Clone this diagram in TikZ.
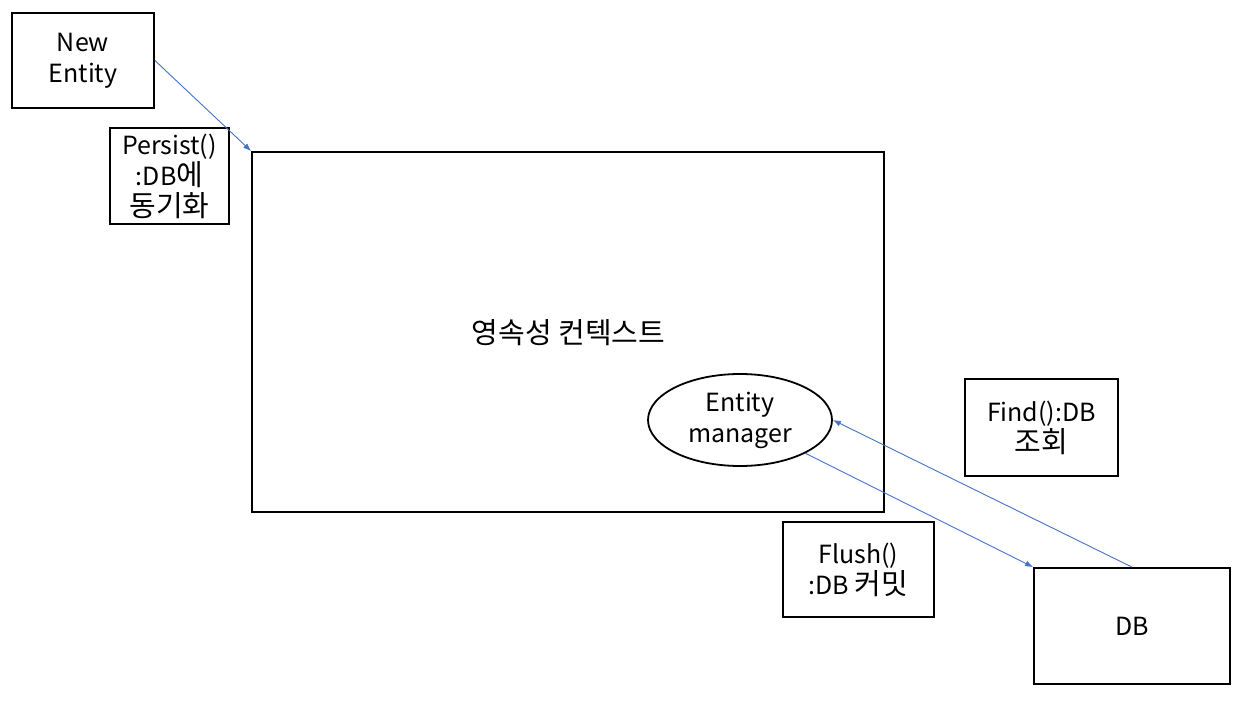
\documentclass[tikz,border=0pt]{standalone}
\usepackage{fontspec}
\setmainfont{Noto Sans CJK KR}
\usetikzlibrary{arrows.meta,shapes.geometric}
\definecolor{arrowblue}{HTML}{4472C4}
\newcommand\krtext[1]{{\fontsize{29}{31}\selectfont #1}}
\begin{document}
\begin{tikzpicture}[x=1pt,y=-1pt,
  box/.style={draw=black,line width=1.8pt,minimum width=#1,inner sep=0pt,align=center,font=\fontsize{25}{31}\selectfont},
  conn/.style={draw=arrowblue,line width=0.9pt,-{Latex[length=8pt,width=6pt]}}]
\path[use as bounding box] (0,0) rectangle (1240,706);
\node[box=142pt,minimum height=95pt] (new) at (83,60.5) {New\\Entity};
\node[box=119pt,minimum height=96pt] (persist) at (169.5,176) {Persist()\\:DB\krtext{에}\\\krtext{동기화}};
\node[box=632pt,minimum height=360pt] (pc) at (568,332) {};
\node[font=\fontsize{29}{31}\selectfont] (pctext) at (568.5,333) {영속성 컨텍스트};
\node[ellipse,draw=black,line width=1.8pt,minimum width=184pt,minimum height=92pt,inner sep=0pt,align=center,font=\fontsize{25}{31}\selectfont] (em) at (740,420) {Entity\\manager};
\node[box=153pt,minimum height=97pt] (find) at (1041.5,427.5) {Find():DB\\\krtext{조회}};
\node[box=151pt,minimum height=95pt] (flush) at (858.5,569.5) {Flush()\\:DB \krtext{커밋}};
\node[box=196pt,minimum height=116pt] (db) at (1132,626) {DB};
\draw[conn] (new.east) -- (pc.north west);
\draw[conn] (em.-27) -- (db.north west);
\draw[conn] (db.north) -- (em.east);
\end{tikzpicture}
\end{document}
